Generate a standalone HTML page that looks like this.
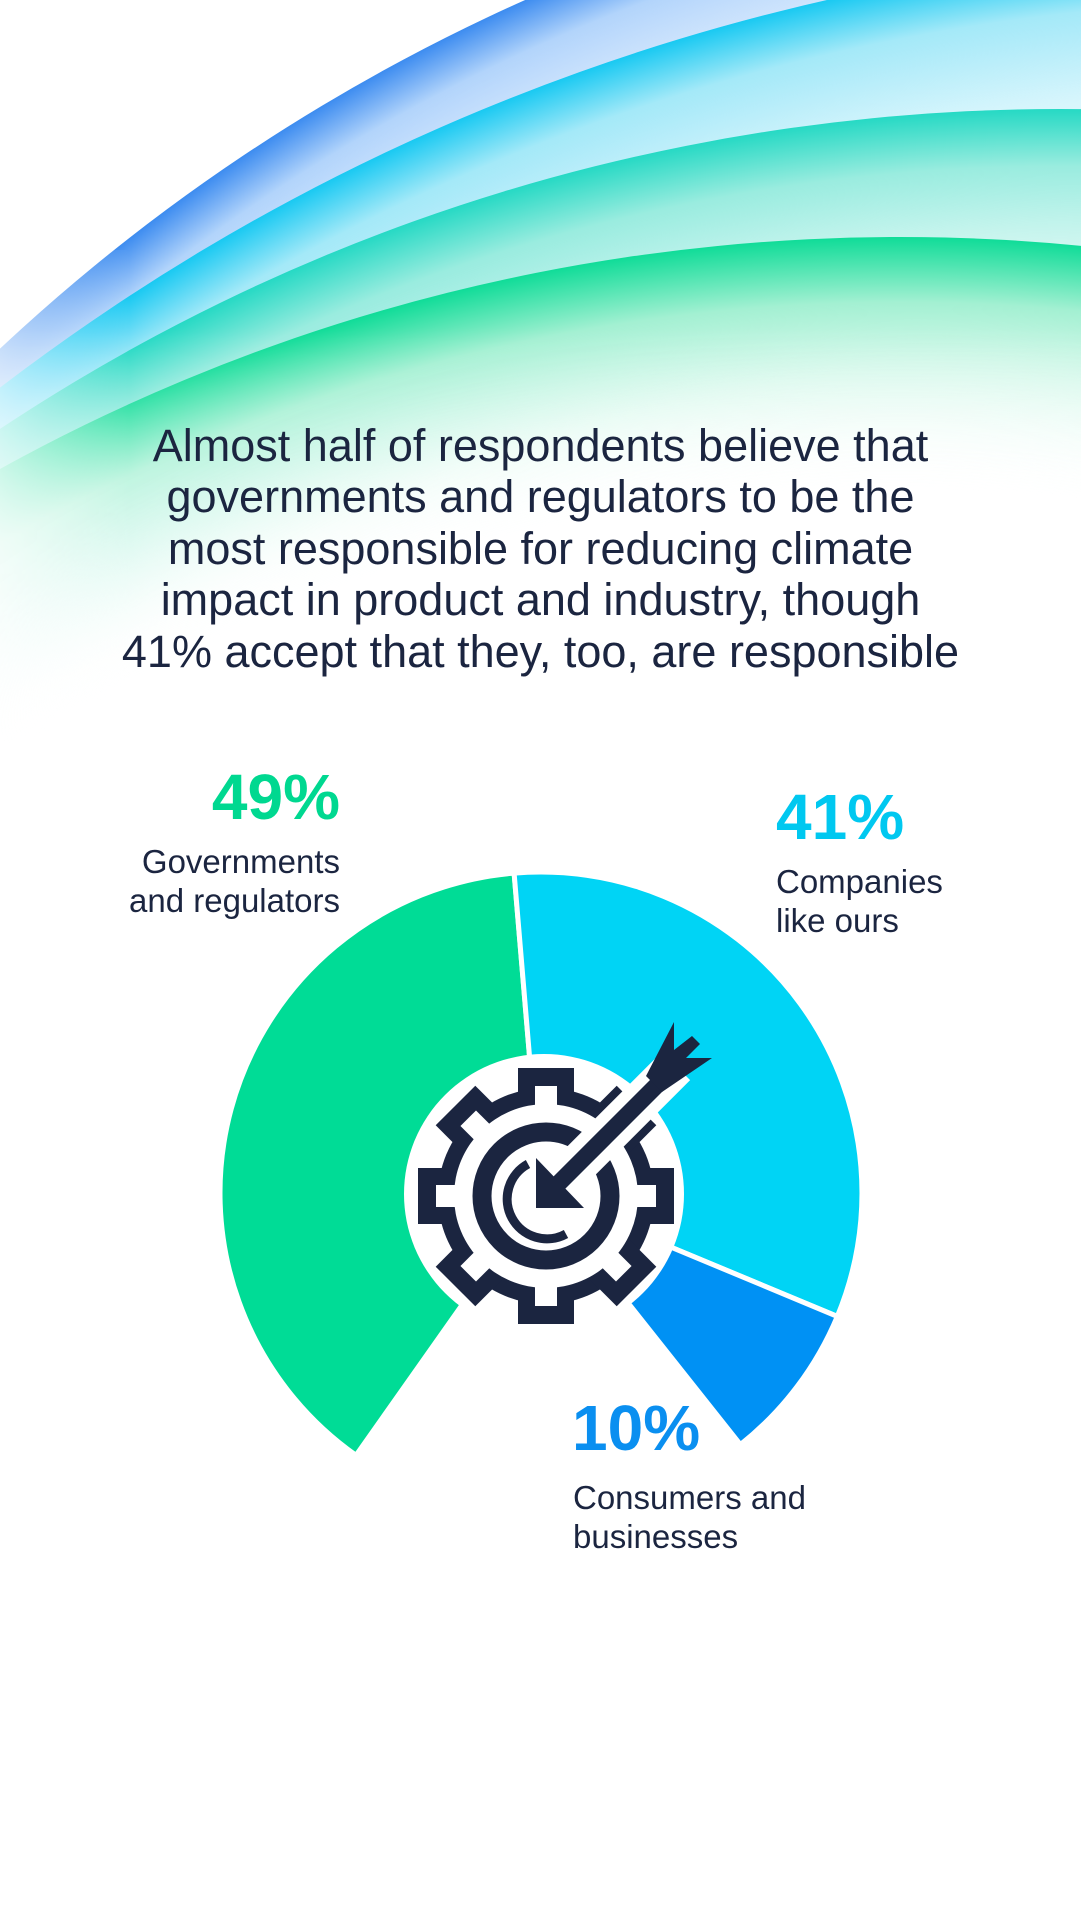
<!DOCTYPE html>
<html><head><meta charset="utf-8">
<style>
html,body{margin:0;padding:0;background:#fff;width:1081px;height:1920px;overflow:hidden;}
body{position:relative;font-family:"Liberation Sans",sans-serif;color:#1b2540;}
svg{position:absolute;left:0;top:0;}
.t{position:absolute;white-space:nowrap;}
</style></head><body>
<svg width="1081" height="1920" viewBox="0 0 1081 1920">
<defs>
<radialGradient id="gA" gradientUnits="userSpaceOnUse" cx="1300" cy="1737" r="1902">
<stop offset="0.87" stop-color="#d8ebff" stop-opacity="0"/>
<stop offset="0.975" stop-color="#b2d4fb"/>
<stop offset="1" stop-color="#3d8cf0"/>
</radialGradient>
<radialGradient id="gB" gradientUnits="userSpaceOnUse" cx="1300" cy="2085" r="2138">
<stop offset="0.88" stop-color="#d0f5fc" stop-opacity="0"/>
<stop offset="0.975" stop-color="#a4e9f8"/>
<stop offset="1" stop-color="#19c9f2"/>
</radialGradient>
<radialGradient id="gC" gradientUnits="userSpaceOnUse" cx="1060" cy="2025" r="1916">
<stop offset="0.87" stop-color="#c8f5ee" stop-opacity="0"/>
<stop offset="0.97" stop-color="#9aecdf"/>
<stop offset="1" stop-color="#26d9c4"/>
</radialGradient>
<radialGradient id="gD" gradientUnits="userSpaceOnUse" cx="900" cy="2099" r="1862">
<stop offset="0.86" stop-color="#ffffff" stop-opacity="0"/>
<stop offset="0.965" stop-color="#a3f0d2"/>
<stop offset="1" stop-color="#10dc98"/>
</radialGradient>
<linearGradient id="mg" x1="0" y1="0" x2="0" y2="1">
<stop offset="0.4" stop-color="#fff"/>
<stop offset="1" stop-color="#000"/>
</linearGradient>
<linearGradient id="lf" x1="0" y1="0" x2="1" y2="0">
<stop offset="0" stop-color="#fff" stop-opacity="0.7"/>
<stop offset="0.12" stop-color="#fff" stop-opacity="0"/>
</linearGradient>
<mask id="m" maskUnits="userSpaceOnUse" x="0" y="0" width="1081" height="820">
<rect x="0" y="0" width="1081" height="820" fill="url(#mg)"/>
</mask>
</defs>
<g mask="url(#m)">
<circle cx="1300" cy="1737" r="1902" fill="url(#gA)"/>
<circle cx="1300" cy="2085" r="2138" fill="url(#gB)"/>
<circle cx="1060" cy="2025" r="1916" fill="url(#gC)"/>
<circle cx="900" cy="2099" r="1862" fill="url(#gD)"/>
<rect x="0" y="250" width="1081" height="570" fill="url(#lf)"/>
</g>

<g stroke="#fff" stroke-width="5" stroke-linejoin="miter">
<path d="M541 1193 L356.0 1455.3 A321 321 0 0 1 514.1 873.1 Z" fill="#00dc96"/>
<path d="M541 1193 L514.1 873.1 A321 321 0 0 1 837.3 1316.4 Z" fill="#00d4f5"/>
<path d="M541 1193 L837.3 1316.4 A321 321 0 0 1 740.4 1444.6 Z" fill="#0091f4"/>
</g>
<circle cx="544" cy="1194" r="140" fill="#fff"/>

<g transform="translate(546,1196)">
<g fill="#1b2540">
<circle r="108"/>
<rect x="-28" y="-128" width="56" height="60"/>
<rect x="-28" y="-128" width="56" height="60" transform="rotate(45)"/>
<rect x="-28" y="-128" width="56" height="60" transform="rotate(90)"/>
<rect x="-28" y="-128" width="56" height="60" transform="rotate(135)"/>
<rect x="-28" y="-128" width="56" height="60" transform="rotate(180)"/>
<rect x="-28" y="-128" width="56" height="60" transform="rotate(225)"/>
<rect x="-28" y="-128" width="56" height="60" transform="rotate(270)"/>
<rect x="-28" y="-128" width="56" height="60" transform="rotate(315)"/>
</g>
<g fill="#fff">
<circle r="92"/>
<rect x="-11" y="-110" width="22" height="30"/>
<rect x="-11" y="-110" width="22" height="30" transform="rotate(45)"/>
<rect x="-11" y="-110" width="22" height="30" transform="rotate(90)"/>
<rect x="-11" y="-110" width="22" height="30" transform="rotate(135)"/>
<rect x="-11" y="-110" width="22" height="30" transform="rotate(180)"/>
<rect x="-11" y="-110" width="22" height="30" transform="rotate(225)"/>
<rect x="-11" y="-110" width="22" height="30" transform="rotate(270)"/>
<rect x="-11" y="-110" width="22" height="30" transform="rotate(315)"/>
</g>
<circle r="64" fill="none" stroke="#1b2540" stroke-width="19"/>
<path d="M-18 -32 A38 38 0 0 0 20 38" fill="none" stroke="#1b2540" stroke-width="9"/>
<line x1="0" y1="0" x2="130" y2="-130" stroke="#fff" stroke-width="40"/>
<line x1="0" y1="0" x2="125" y2="-125" stroke="#1b2540" stroke-width="17"/>
<polygon points="-10,12 -10,-38 38,12" fill="#1b2540"/>
<polygon points="100,-120 128,-174 128,-146 146,-160 154,-152 140,-138 166,-138 116,-104" fill="#1b2540"/>
</g>
</svg>

<div class="t" style="left:0;width:1081px;top:420px;text-align:center;font-size:45px;line-height:51.4px;color:#1b2540;">Almost half of respondents believe that<br>governments and regulators to be the<br>most responsible for reducing climate<br>impact in product and industry, though<br>41% accept that they, too, are responsible</div>

<div class="t" style="right:741px;top:757px;font-size:64px;font-weight:bold;color:#00d890;line-height:80px;">49%</div>
<div class="t" style="right:741px;top:842px;font-size:33px;line-height:39px;text-align:right;">Governments<br>and regulators</div>

<div class="t" style="left:776px;top:777px;font-size:64px;font-weight:bold;color:#00c8f0;line-height:80px;">41%</div>
<div class="t" style="left:776px;top:862px;font-size:33px;line-height:39px;">Companies<br>like ours</div>

<div class="t" style="left:572px;top:1388px;font-size:64px;font-weight:bold;color:#0a8ff0;line-height:80px;">10%</div>
<div class="t" style="left:573px;top:1478px;font-size:33px;line-height:39px;">Consumers and<br>businesses</div>
</body></html>
